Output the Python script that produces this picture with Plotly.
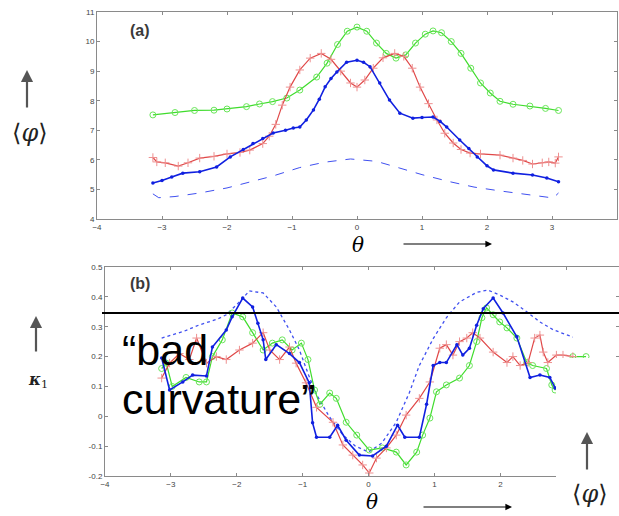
import plotly.graph_objects as go

W, H = 619, 516

# ---------------- panel (a) data ----------------
theta_a_green = [-3.14,-2.8,-2.5,-2.2,-2.0,-1.7,-1.5,-1.3,-1.08,-0.88,-0.62,-0.46,-0.3,-0.15,0.0,0.15,0.3,0.45,0.6,0.75,0.9,1.05,1.17,1.3,1.45,1.6,1.75,1.9,2.05,2.2,2.4,2.66,2.9,3.1]
phi_a_green = [7.52,7.6,7.67,7.68,7.72,7.8,7.89,7.97,8.09,8.36,8.8,9.27,9.9,10.35,10.49,10.35,9.95,9.6,9.44,9.55,9.95,10.25,10.36,10.3,10.0,9.6,9.1,8.6,8.26,7.98,7.88,7.82,7.74,7.67]

theta_a_red = [-3.14,-3.08,-2.95,-2.75,-2.6,-2.42,-2.2,-2.0,-1.8,-1.65,-1.45,-1.35,-1.25,-1.15,-1.03,-0.88,-0.72,-0.55,-0.4,-0.25,-0.1,0.0,0.12,0.25,0.4,0.58,0.72,0.85,0.97,1.1,1.23,1.35,1.48,1.6,1.74,1.9,2.2,2.4,2.55,2.7,2.85,2.95,3.05,3.1]
phi_a_red = [6.08,5.93,5.9,5.79,5.9,6.06,6.12,6.2,6.25,6.33,6.55,6.8,7.2,7.85,8.46,9.04,9.44,9.6,9.4,9.0,8.6,8.46,8.7,9.1,9.45,9.6,9.5,9.1,8.46,7.9,7.35,6.9,6.57,6.35,6.23,6.2,6.16,6.06,5.98,5.86,5.9,5.93,5.89,6.1]

theta_a_blue = [-3.14,-3.0,-2.85,-2.68,-2.42,-2.16,-1.95,-1.75,-1.6,-1.45,-1.29,-1.1,-0.98,-0.88,-0.78,-0.67,-0.58,-0.49,-0.4,-0.31,-0.16,0.0,0.1,0.2,0.35,0.5,0.66,0.86,1.0,1.17,1.28,1.38,1.58,1.72,1.85,2.0,2.1,2.4,2.7,2.92,3.1]
phi_a_blue = [5.22,5.3,5.42,5.55,5.6,5.76,6.1,6.35,6.55,6.72,6.91,7.0,7.08,7.11,7.35,7.69,8.05,8.47,8.75,8.97,9.3,9.37,9.3,9.15,8.6,8.02,7.58,7.41,7.43,7.45,7.3,7.11,6.67,6.38,6.1,5.8,5.66,5.55,5.49,5.39,5.26]

theta_a_dash = [-3.14,-3.05,-2.8,-2.42,-2.0,-1.65,-1.3,-0.88,-0.5,-0.1,0.3,0.66,1.0,1.43,1.8,2.2,2.6,3.02,3.1]
phi_a_dash = [4.85,4.72,4.76,4.88,5.05,5.26,5.45,5.74,5.92,6.03,5.95,5.72,5.5,5.26,5.08,4.95,4.83,4.71,4.88]

# ---------------- panel (b) data ----------------
theta_b_dot = [-3.14,-2.8,-2.57,-2.3,-2.16,-1.96,-1.81,-1.6,-1.4,-1.2,-1.05,-0.9,-0.77,-0.6,-0.4,-0.2,0.0,0.2,0.42,0.62,0.77,0.98,1.18,1.38,1.64,1.81,2.0,2.19,2.4,2.6,2.8,3.02,3.1]
kappa_b_dot = [0.262,0.285,0.306,0.325,0.34,0.383,0.42,0.413,0.366,0.289,0.222,0.132,0.065,0.0,-0.06,-0.1,-0.12,-0.09,-0.02,0.08,0.17,0.26,0.33,0.383,0.415,0.423,0.405,0.383,0.35,0.316,0.29,0.272,0.265]

theta_b_blue = [-3.14,-3.02,-2.82,-2.67,-2.46,-2.37,-2.16,-2.07,-1.91,-1.76,-1.68,-1.6,-1.56,-1.4,-1.2,-1.05,-0.9,-0.85,-0.79,-0.59,-0.47,-0.34,-0.14,0.06,0.27,0.44,0.55,0.77,0.88,0.98,1.08,1.18,1.34,1.43,1.53,1.64,1.74,1.89,2.04,2.25,2.45,2.6,2.75,2.83]
kappa_b_blue = [0.195,0.088,0.115,0.138,0.135,0.232,0.289,0.333,0.396,0.366,0.312,0.256,0.19,0.24,0.21,0.18,0.112,-0.022,-0.07,-0.07,-0.03,-0.08,-0.13,-0.133,-0.1,-0.03,-0.07,-0.07,0.04,0.17,0.18,0.18,0.24,0.205,0.228,0.305,0.36,0.396,0.346,0.266,0.13,0.138,0.13,0.095]

theta_b_red = [-3.14,-3.02,-2.87,-2.72,-2.61,-2.46,-2.31,-2.16,-1.96,-1.76,-1.6,-1.5,-1.35,-1.2,-1.1,-0.95,-0.79,-0.54,-0.39,-0.24,-0.09,0.01,0.12,0.27,0.42,0.57,0.77,0.93,1.08,1.18,1.28,1.38,1.49,1.58,1.69,1.89,2.1,2.19,2.3,2.42,2.52,2.6,2.65,2.72,2.85,2.95,3.1]
kappa_b_red = [0.128,0.178,0.21,0.19,0.262,0.178,0.2,0.19,0.222,0.245,0.28,0.222,0.19,0.232,0.178,0.112,0.03,-0.02,-0.096,-0.13,-0.163,-0.19,-0.14,-0.106,-0.063,0.004,0.06,0.115,0.228,0.24,0.205,0.25,0.262,0.28,0.262,0.215,0.18,0.2,0.17,0.18,0.262,0.272,0.215,0.18,0.205,0.205,0.2]

theta_b_green = [-3.14,-3.07,-2.98,-2.77,-2.57,-2.46,-2.37,-2.22,-2.07,-1.91,-1.76,-1.6,-1.46,-1.31,-1.16,-1.02,-0.92,-0.82,-0.74,-0.59,-0.49,-0.34,-0.18,0.01,0.21,0.42,0.57,0.73,0.82,0.93,1.03,1.18,1.38,1.53,1.64,1.72,1.79,1.89,1.99,2.1,2.25,2.4,2.49,2.7,2.78,2.83,2.95,3.1,3.3]
kappa_b_green = [0.16,0.178,0.1,0.13,0.115,0.115,0.2,0.256,0.346,0.333,0.28,0.222,0.245,0.256,0.222,0.245,0.19,0.088,0.04,0.078,0.06,-0.02,-0.063,-0.113,-0.106,-0.12,-0.163,-0.12,-0.063,-0.006,0.082,0.105,0.128,0.17,0.25,0.33,0.363,0.34,0.316,0.296,0.262,0.18,0.17,0.16,0.105,0.088,0.15,0.2,0.2]

bad_curvature_level = 0.346

# tick values
xticks_a = [-4, -3, -2, -1, 0, 1, 2, 3, 4]
yticks_a = [4, 5, 6, 7, 8, 9, 10, 11]
xticks_b = [-4, -3, -2, -1, 0, 1, 2, 3]
yticks_b = [-0.2, -0.1, 0, 0.1, 0.2, 0.3, 0.4, 0.5]
yticklabels_b = ["-0.2", "-0.1", "0", "0.1", "0.2", "0.3", "0.4", "0.5"]

GREEN = "#3fdc2c"
RED = "#e04848"
BLUE = "#1020e0"
DASH = "#4050f0"

def px(x):
    return x / W

def py(y):
    return 1 - y / H

fig = go.Figure()

def add_panel(xa, ya, tg, vg, tr, vr, tb, vb, td, vd, dash_style, dash_w):
    fig.add_trace(go.Scatter(x=td, y=vd, mode="lines", xaxis=xa, yaxis=ya,
                             line=dict(color=DASH, width=dash_w, dash=dash_style),
                             showlegend=False, hoverinfo="skip"))
    fig.add_trace(go.Scatter(x=tg, y=vg, mode="lines+markers", xaxis=xa, yaxis=ya,
                             line=dict(color=GREEN, width=1.2),
                             marker=dict(symbol="circle-open", size=6, color="#6ae65a",
                                         line=dict(width=1, color="#6ae65a")),
                             showlegend=False, hoverinfo="skip"))
    fig.add_trace(go.Scatter(x=tr, y=vr, mode="lines+markers", xaxis=xa, yaxis=ya,
                             line=dict(color=RED, width=1.2),
                             marker=dict(symbol="cross-thin", size=6, color="#ee9090",
                                         line=dict(width=1, color="#ee9090")),
                             showlegend=False, hoverinfo="skip"))
    fig.add_trace(go.Scatter(x=tb, y=vb, mode="lines+markers", xaxis=xa, yaxis=ya,
                             line=dict(color=BLUE, width=1.6),
                             marker=dict(symbol="circle", size=3.5, color=BLUE),
                             showlegend=False, hoverinfo="skip"))

add_panel("x", "y", theta_a_green, phi_a_green, theta_a_red, phi_a_red,
          theta_a_blue, phi_a_blue, theta_a_dash, phi_a_dash, "dash", 1)
add_panel("x2", "y2", theta_b_green, kappa_b_green, theta_b_red, kappa_b_red,
          theta_b_blue, kappa_b_blue, theta_b_dot, kappa_b_dot, "dot", 1.3)

axis_common = dict(showline=True, linecolor="#8a8a8a", linewidth=1, mirror="ticks",
                   ticks="inside", ticklen=3, tickcolor="#8a8a8a", showgrid=False,
                   zeroline=False, automargin=False,
                   tickfont=dict(family="Liberation Sans", size=8, color="#444"))

fig.update_layout(
    width=W, height=H, margin=dict(l=0, r=0, t=0, b=0, pad=0, autoexpand=False),
    paper_bgcolor="white", plot_bgcolor="white",
    xaxis=dict(domain=[px(97), px(617)], range=[-4, 4], tickvals=xticks_a,
               anchor="y", **axis_common),
    yaxis=dict(domain=[py(219), py(12)], range=[4, 11], tickvals=yticks_a,
               anchor="x", **axis_common),
    xaxis2=dict(domain=[px(105), 1.0], range=[-4, 3.8], tickvals=xticks_b,
                anchor="y2", **axis_common),
    yaxis2=dict(domain=[py(476), py(267)], range=[-0.2, 0.5], tickvals=yticks_b,
                ticktext=yticklabels_b, anchor="x2", **axis_common),
)

shapes = [
    dict(type="line", xref="paper", yref="y2", x0=px(102), x1=1.0,
         y0=bad_curvature_level, y1=bad_curvature_level,
         line=dict(color="black", width=2), layer="above"),
    dict(type="rect", xref="paper", yref="paper", x0=px(556), x1=1.0,
         y0=0, y1=py(358), fillcolor="white", line=dict(width=0), layer="above"),
]
fig.update_layout(shapes=shapes)

ann = []
def text(x, y, s, size, family="Liberation Sans", color="black", xanchor="center", yanchor="middle"):
    ann.append(dict(x=px(x), y=py(y), xref="paper", yref="paper", text=s, showarrow=False,
                    font=dict(family=family, size=size, color=color),
                    xanchor=xanchor, yanchor=yanchor))

def arrow(x_head, y_head, x_tail, y_tail, color, width):
    ann.append(dict(x=px(x_head), y=py(y_head), xref="paper", yref="paper", text="",
                    showarrow=True, ax=x_tail - x_head, ay=y_tail - y_head,
                    axref="pixel", ayref="pixel", arrowhead=2, arrowsize=1.1,
                    arrowwidth=width, arrowcolor=color))

text(140, 31, "<b>(a)</b>", 16, color="#3a3a3a")
text(140, 283, "<b>(b)</b>", 16, color="#3a3a3a")
text(358, 245, "<i>θ</i>", 20, family="DejaVu Serif")
text(372, 502, "<i>θ</i>", 20, family="DejaVu Serif")
text(30, 133, "⟨<i>φ</i>⟩", 24, family="DejaVu Serif", color="#222")
text(590, 494, "⟨<i>φ</i>⟩", 24, family="DejaVu Serif", color="#222")
text(38, 380, "<b><i>κ</i></b><sub>1</sub>", 16, family="DejaVu Serif", color="#222")
text(120, 350, "“bad", 43, xanchor="left")
text(120, 399, "curvature”", 43, xanchor="left")

arrow(27, 70, 27, 109, "#555", 2.2)
arrow(36, 316, 36, 353, "#555", 2.2)
arrow(587, 432, 587, 471, "#555", 2.2)
arrow(492, 244, 402, 244, "black", 1.2)
arrow(512, 507, 422, 507, "black", 1.2)

fig.update_layout(annotations=ann)

fig.write_html("out.html", config={"displayModeBar": False},
               post_script="document.body.style.margin='0';document.body.style.overflow='hidden';")
